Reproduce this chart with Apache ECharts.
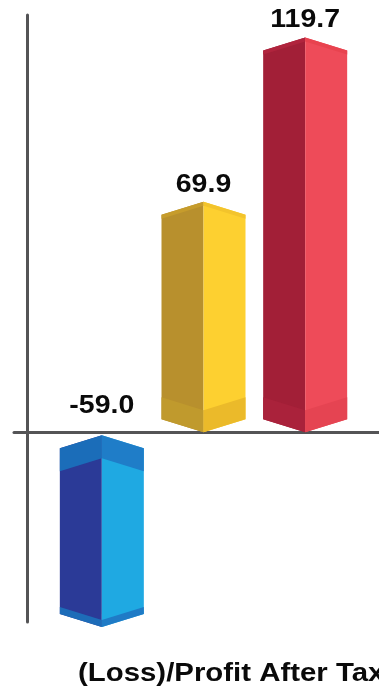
<!DOCTYPE html>
<html>
<head>
<meta charset="utf-8">
<script src="https://cdn.jsdelivr.net/npm/echarts@6/dist/echarts.min.js"></script>
<style>
  html, body { margin: 0; padding: 0; background: #ffffff; }
  #chart { width: 379px; height: 691px; }
</style>
</head>
<body>
<div id="chart"></div>
<script>
// ---- data ----
const categories = ['Year 1', 'Year 2', 'Year 3'];
const values = [-59.0, 69.9, 119.7];
const titleText = '(Loss)/Profit After Tax';

// ---- styles (kept apart from the data) ----
const palette = [
  { left: '#2b3a97', right: '#1fa9e2', bandL: '#1b6db9', bandR: '#1f7dc8', capL: '#1d6cb8', capR: '#1f7bc6' },
  { left: '#b8902d', right: '#fdd030', bandL: '#c09a2d', bandR: '#ebba2a', capL: '#c69c2c', capR: '#f3c42c' },
  { left: '#a21f37', right: '#ee4b59', bandL: '#aa223b', bandR: '#e54452', capL: '#b0243d', capR: '#e8434f' }
];
const FONT = '"Liberation Sans", Arial, Helvetica, sans-serif';
const AXIS_COLOR = '#545456';

const chart = echarts.init(document.getElementById('chart'), null, { renderer: 'canvas' });

function poly(points, fill) {
  return { type: 'polygon', shape: { points: points }, style: { fill: fill }, silent: true };
}

function renderItem(params, api) {
  const idx = api.value(0);
  const v = api.value(1);
  const pv = api.coord([idx, v]);
  const p0 = api.coord([idx, 0]);
  const c = pv[0];
  const h = 42, d = 13;
  const pos = v >= 0;
  const yTop = Math.min(pv[1], p0[1]) + (pos ? 0 : 3);
  const yBot = Math.max(pv[1], p0[1]);
  const col = palette[params.dataIndex % palette.length];

  const children = [];
  // faces
  children.push(poly([[c - h, yTop + d], [c, yTop], [c, yBot], [c - h, yBot - d]], col.left));
  children.push(poly([[c, yTop], [c + h, yTop + d], [c + h, yBot - d], [c, yBot]], col.right));

  function topBand(t, fl, fr) {
    children.push(poly([[c - h, yTop + d], [c, yTop], [c, yTop + t], [c - h, yTop + d + t]], fl));
    children.push(poly([[c, yTop], [c + h, yTop + d], [c + h, yTop + d + t], [c, yTop + t]], fr));
  }
  function botBand(t, fl, fr) {
    children.push(poly([[c - h, yBot - d - t], [c, yBot - t], [c, yBot], [c - h, yBot - d]], fl));
    children.push(poly([[c, yBot - t], [c + h, yBot - d - t], [c + h, yBot - d], [c, yBot]], fr));
  }
  if (pos) {
    botBand(22, col.bandL, col.bandR);
    topBand(4, col.capL, col.capR);
  } else {
    topBand(23, col.bandL, col.bandR);
    botBand(7, col.capL, col.capR);
  }

  // value label
  const ly = pos ? yTop - 17 : p0[1] - 26;
  children.push({
    type: 'text',
    x: c,
    y: ly,
    scaleX: 1.14,
    silent: true,
    style: {
      text: v.toFixed(1),
      font: 'bold 25px ' + FONT,
      fill: '#0a0a0a',
      align: 'center', textAlign: 'center',
      verticalAlign: 'middle', textVerticalAlign: 'middle'
    }
  });

  return { type: 'group', children: children };
}

const yMin = -57.5, yMax = 126.5;

const option = {
  backgroundColor: '#ffffff',
  animation: false,
  grid: [
    { left: 14, right: 0, top: 15, bottom: 69 },
    { left: 51, right: 23, top: 15, bottom: 69 }
  ],
  xAxis: [
    {
      type: 'category', gridIndex: 0, data: [''],
      axisLine: { show: true, onZero: true, lineStyle: { color: AXIS_COLOR, width: 3 } },
      axisTick: { show: false }, axisLabel: { show: false }, splitLine: { show: false }
    },
    {
      type: 'category', gridIndex: 1, data: categories,
      axisLine: { show: false }, axisTick: { show: false }, axisLabel: { show: false }, splitLine: { show: false }
    }
  ],
  yAxis: [
    {
      type: 'value', gridIndex: 0, min: yMin, max: yMax, offset: -13,
      axisLine: { show: true, lineStyle: { color: AXIS_COLOR, width: 3 } },
      axisTick: { show: false }, axisLabel: { show: false }, splitLine: { show: false }
    },
    {
      type: 'value', gridIndex: 1, min: yMin, max: yMax,
      axisLine: { show: false }, axisTick: { show: false }, axisLabel: { show: false }, splitLine: { show: false }
    }
  ],
  graphic: [
    {
      type: 'text',
      x: 78,
      y: 674,
      scaleX: 1.13,
      style: {
        text: titleText,
        font: 'bold 26px ' + FONT,
        fill: '#0a0a0a',
        align: 'left', textAlign: 'left',
        verticalAlign: 'middle', textVerticalAlign: 'middle'
      }
    }
  ],
  series: [
    {
      type: 'custom',
      xAxisIndex: 1,
      yAxisIndex: 1,
      clip: false,
      renderItem: renderItem,
      data: categories.map((cat, i) => [i, values[i]])
    }
  ]
};

chart.setOption(option);
</script>
</body>
</html>
